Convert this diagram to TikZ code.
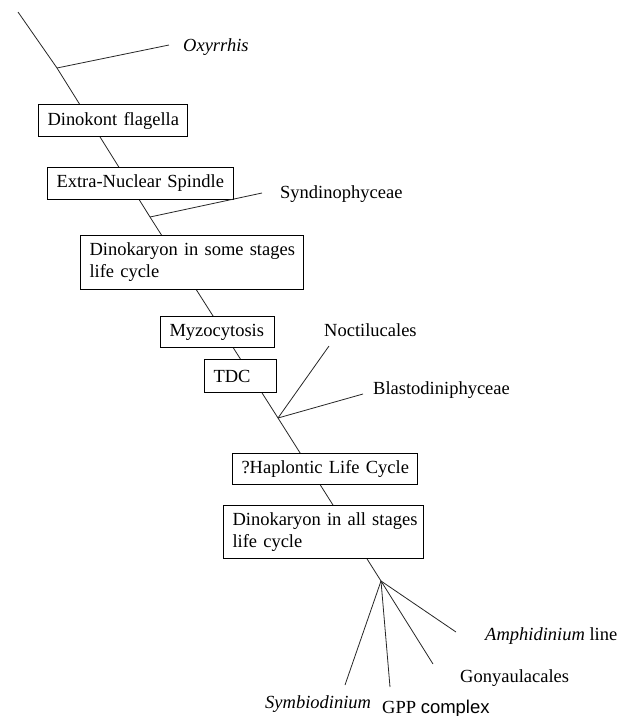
\documentclass[tikz,border=0pt]{standalone}
\usepackage{fontspec}
\setmainfont{Liberation Serif}
\newfontfamily\sansfam{Liberation Sans}
\begin{document}
\begin{tikzpicture}[x=1pt,y=-1pt,
  stem/.style={line width=0.8pt, draw=black!85},
  trait/.style={draw, line width=1pt, fill=white, anchor=north west,
    inner xsep=9pt, inner ysep=0pt, align=left,
    font=\fontsize{18.5}{22}\selectfont},
  taxon/.style={anchor=base west, inner sep=0pt,
    font=\fontsize{18.5}{22}\selectfont}]
\useasboundingbox (0,0) rectangle (631,716);

% branch points along the main stem
\coordinate (root) at (18,12);
\coordinate (b1) at (57,68);
\coordinate (b2) at (150,217);
\coordinate (b3) at (278,418);
\coordinate (fan) at (381,581);
\draw[stem] (root) -- (b1) -- (b2) -- (b3) -- (fan);

% character boxes sitting on the stem (lines kept unbroken)
\node[trait, text width=131pt, minimum height=32pt] (dflag) at (38,104) {\mbox{Dinokont flagella}};
\node[trait, text width=168pt, minimum height=32pt] (ens) at (47,167) {\mbox{Extra-Nuclear Spindle}};
\node[trait, text width=205pt, minimum height=54pt] (dksome) at (80,235) {\mbox{Dinokaryon in some stages}\\\mbox{life cycle}};
\node[trait, text width=96pt, minimum height=31pt] (myzo) at (160,316) {\mbox{Myzocytosis}};
\node[trait, text width=54pt, minimum height=33pt] (tdc) at (204,359) {\mbox{TDC}};
\node[trait, text width=167pt, minimum height=31pt] (hap) at (232,453) {\mbox{?Haplontic Life Cycle}};
\node[trait, text width=182pt, minimum height=53pt] (dkall) at (223,505) {\mbox{Dinokaryon in all stages}\\\mbox{life cycle}};

% side branches and their taxa
\coordinate (tOxy) at (169,45);
\draw[stem] (b1) -- (tOxy);
\node[taxon] (oxy) at (183,51) {\textit{Oxyrrhis}};

\coordinate (tSyn) at (262,193);
\draw[stem] (b2) -- (tSyn);
\node[taxon] (syn) at (280,198.5) {Syndinophyceae};

\coordinate (tNoc) at (329,346);
\draw[stem] (b3) -- (tNoc);
\node[taxon] (noc) at (324,336) {Noctilucales};

\coordinate (tBla) at (363,394);
\draw[stem] (b3) -- (tBla);
\node[taxon] (bla) at (373,394) {Blastodiniphyceae};

% terminal fan
\coordinate (tAmp) at (456,632);
\coordinate (tGon) at (433,664);
\coordinate (tGpp) at (390,687);
\coordinate (tSym) at (345,685);
\draw[stem] (fan) -- (tAmp);
\draw[stem] (fan) -- (tGon);
\draw[stem] (fan) -- (tGpp);
\draw[stem] (fan) -- (tSym);
\node[taxon] (amp) at (485,640) {\textit{Amphidinium} line};
\node[taxon] (gon) at (460,682) {Gonyaulacales};
\node[taxon] (gpp) at (382,713) {GPP {\sansfam complex}};
\node[taxon] (sym) at (265,708) {\textit{Symbiodinium}};
\end{tikzpicture}
\end{document}
